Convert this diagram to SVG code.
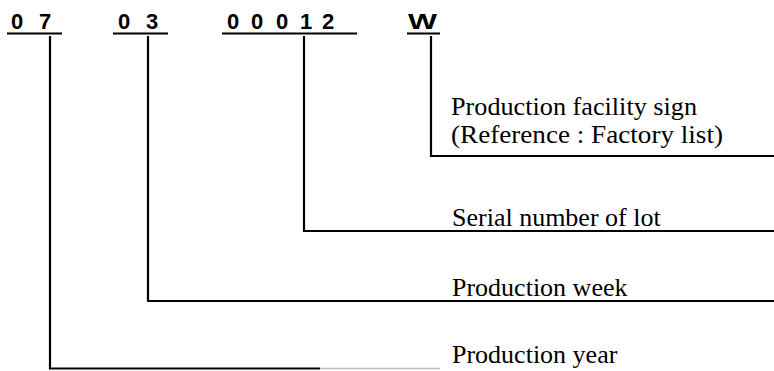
<svg xmlns="http://www.w3.org/2000/svg" width="774" height="371" viewBox="0 0 774 371">
<style>
.code{font-family:"Liberation Sans",Arial,sans-serif;font-size:22px;font-weight:bold;fill:#000}
.lbl{font-family:"Liberation Serif","Times New Roman",serif;font-size:26px;fill:#000}
.lbl2{font-family:"Liberation Serif","Times New Roman",serif;font-size:25px;fill:#000}
.ln{stroke:#000;stroke-width:2.2;fill:none}
</style>
<rect width="774" height="371" fill="#fff"/>
<g id="code-year">
<text class="code" x="11" y="29">0</text>
<text class="code" x="39" y="29">7</text>
<line class="ln" x1="7" y1="33.5" x2="62" y2="33.5"/>
</g>
<g id="code-week">
<text class="code" x="118" y="29">0</text>
<text class="code" x="146" y="29">3</text>
<line class="ln" x1="113" y1="33.5" x2="168" y2="33.5"/>
</g>
<g id="code-serial">
<text class="code" x="227" y="29">0</text>
<text class="code" x="251" y="29">0</text>
<text class="code" x="276" y="29">0</text>
<text class="code" x="300" y="29">1</text>
<text class="code" x="322" y="29">2</text>
<line class="ln" x1="222" y1="33.5" x2="357" y2="33.5"/>
</g>
<g id="code-facility">
<text class="code" x="408" y="29" textLength="29" lengthAdjust="spacingAndGlyphs">W</text>
<line class="ln" x1="407" y1="33.5" x2="440" y2="33.5"/>
</g>
<g id="label-facility">
<text class="lbl2" x="451" y="115" textLength="246" lengthAdjust="spacingAndGlyphs">Production facility sign</text>
<text class="lbl2" x="451" y="143" textLength="272" lengthAdjust="spacingAndGlyphs">(Reference : Factory list)</text>
</g>
<g id="label-serial">
<text class="lbl" x="452" y="226">Serial number of lot</text>
</g>
<g id="label-week">
<text class="lbl" x="452" y="296">Production week</text>
</g>
<g id="label-year">
<text class="lbl" x="452" y="363">Production year</text>
</g>
<g id="connectors">
<polyline class="ln" points="431,36 431,156 774,156"/>
<polyline class="ln" points="304,36 304,231 774,231"/>
<polyline class="ln" points="148,36 148,301 774,301"/>
<polyline class="ln" points="50,36 50,368.5 320,368.5"/>
<line x1="320" y1="368.5" x2="440" y2="368.5" stroke="#bbb" stroke-width="1.5"/>
</g>
</svg>
